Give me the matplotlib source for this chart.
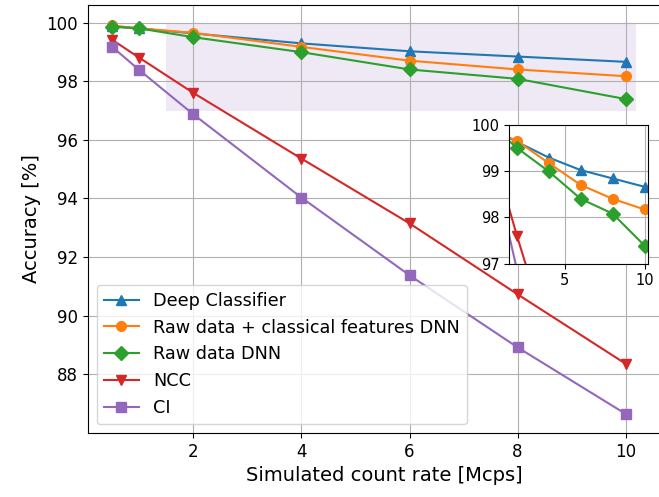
import numpy as np
import matplotlib.pyplot as plt
from matplotlib.patches import Rectangle

# count rates [Mcps]
rates = [0.5, 1, 2, 4, 6, 8, 10]

# accuracy [%] for each method
deepClassifier = [99.87, 99.80, 99.63, 99.29, 99.02, 98.84, 98.66]
rawClassical = [99.90, 99.80, 99.65, 99.17, 98.70, 98.40, 98.17]
rawDNN = [99.86, 99.80, 99.50, 98.99, 98.40, 98.08, 97.39]
ncc = [99.41, 98.80, 97.60, 95.36, 93.15, 90.73, 88.36]
ci = [99.17, 98.38, 96.87, 94.03, 91.38, 88.92, 86.65]

names = ["Deep Classifier", "Raw data + classical features DNN",
         "Raw data DNN", "NCC", "CI"]
series = [deepClassifier, rawClassical, rawDNN, ncc, ci]
markers = ['^', 'o', 'D', 'v', 's']

# zoomed region
zoomX = [1.5, 10.2]
zoomY = [97, 100]

fig = plt.figure(figsize=(6.59, 4.97), dpi=100)
# the reference is cut off on the right, so the axes run past the image edge
ax = fig.add_axes([0.1331, 0.1288, 0.9, 0.8618])
ax.spines['right'].set_visible(False)

for vals, name, mk in zip(series, names, markers):
    ax.plot(rates, vals, marker=mk, markersize=7, label=name)

ax.add_patch(Rectangle((zoomX[0], zoomY[0]), zoomX[1] - zoomX[0], zoomY[1] - zoomY[0],
                       facecolor='tab:purple', alpha=0.15, edgecolor='none', zorder=1))

ax.set_xlim(0.046, 11.02)
ax.set_ylim(86.0, 100.61)
ax.set_xticks([2, 4, 6, 8, 10])
ax.set_yticks([88, 90, 92, 94, 96, 98, 100])
ax.tick_params(labelsize=12)
ax.set_xlabel("Simulated count rate [Mcps]", fontsize=14)
ax.set_ylabel("Accuracy [%]", fontsize=14)
ax.grid(True)
ax.legend(loc='lower left', fontsize=12.7)

# inset
axIn = fig.add_axes([509 / 659, 1 - 263.7 / 497, 138.7 / 659, 139 / 497])
for vals, mk in zip(series, markers):
    axIn.plot(rates, vals, marker=mk, markersize=7)
axIn.set_xlim(zoomX)
axIn.set_ylim(zoomY)
axIn.set_xticks([5, 10])
axIn.set_yticks([97, 98, 99, 100])
axIn.tick_params(labelsize=10.5)
axIn.grid(True)

fig.savefig("out.png", dpi=100)
